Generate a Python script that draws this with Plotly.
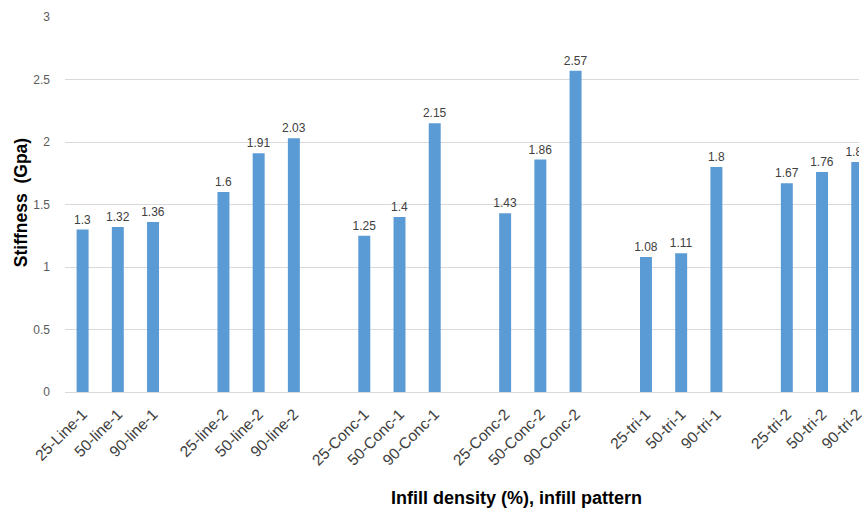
import plotly.graph_objects as go

# Stiffness per infill density / pattern, grouped in threes
groups = [
    ["25-Line-1", "50-line-1", "90-line-1"],
    ["25-line-2", "50-line-2", "90-line-2"],
    ["25-Conc-1", "50-Conc-1", "90-Conc-1"],
    ["25-Conc-2", "50-Conc-2", "90-Conc-2"],
    ["25-tri-1", "50-tri-1", "90-tri-1"],
    ["25-tri-2", "50-tri-2", "90-tri-2"],
]
stiffness = [
    [1.3, 1.32, 1.36],
    [1.6, 1.91, 2.03],
    [1.25, 1.4, 2.15],
    [1.43, 1.86, 2.57],
    [1.08, 1.11, 1.8],
    [1.67, 1.76, 1.84],
]
y_ticks = [0, 0.5, 1, 1.5, 2, 2.5, 3]

# Flatten groups, inserting an empty slot between consecutive groups
cats, vals, texts = [], [], []
for gi, (names, values) in enumerate(zip(groups, stiffness)):
    if gi > 0:
        cats.append(" " * gi)
        vals.append(None)
        texts.append("")
    for n, v in zip(names, values):
        cats.append(n)
        vals.append(v)
        texts.append(f"{v:g}")

fig = go.Figure(
    go.Bar(
        x=cats,
        y=vals,
        text=texts,
        textposition="outside",
        textangle=0,
        constraintext="none",
        textfont=dict(family="Liberation Sans, Arial, sans-serif", size=12, color="#404040"),
        marker=dict(color="#5B9BD5", line=dict(width=0)),
        cliponaxis=True,
    )
)

n_slots = len(cats)
fig.update_layout(
    width=865,
    height=510,
    margin=dict(l=65, r=0, t=17, b=118),
    plot_bgcolor="white",
    paper_bgcolor="white",
    bargap=0.66,
    showlegend=False,
    font=dict(family="Liberation Sans, Arial, sans-serif", color="#595959"),
)
fig.update_xaxes(
    type="category",
    categoryorder="array",
    categoryarray=cats,
    range=[-0.5, n_slots - 0.95],
    tickangle=-45,
    tickfont=dict(size=15.5, color="#404040"),
    ticklabelstandoff=6,
    showgrid=False,
    showline=True,
    linecolor="#d9d9d9",
    linewidth=1,
    ticks="",
)
fig.update_yaxes(
    range=[0, 3],
    tickvals=y_ticks,
    ticktext=[f"{t:g}" for t in y_ticks],
    tickfont=dict(size=12, color="#595959"),
    showgrid=True,
    gridcolor="#d9d9d9",
    gridwidth=1,
    zeroline=False,
    showline=False,
    ticks="",
    ticklabelstandoff=14,
)

fig.add_annotation(
    text="<b>Stiffness  (Gpa)</b>",
    xref="paper", yref="paper",
    x=-0.056, y=0.505,
    xanchor="center", yanchor="middle",
    textangle=-90,
    showarrow=False,
    font=dict(size=17.5, color="#000000", family="Liberation Sans, Arial, sans-serif"),
)
fig.add_annotation(
    text="<b>Infill density (%), infill pattern</b>",
    xref="paper", yref="paper",
    x=0.569, y=-0.283,
    xanchor="center", yanchor="middle",
    showarrow=False,
    font=dict(size=18, color="#000000", family="Liberation Sans, Arial, sans-serif"),
)

fig.write_html("out.html")
